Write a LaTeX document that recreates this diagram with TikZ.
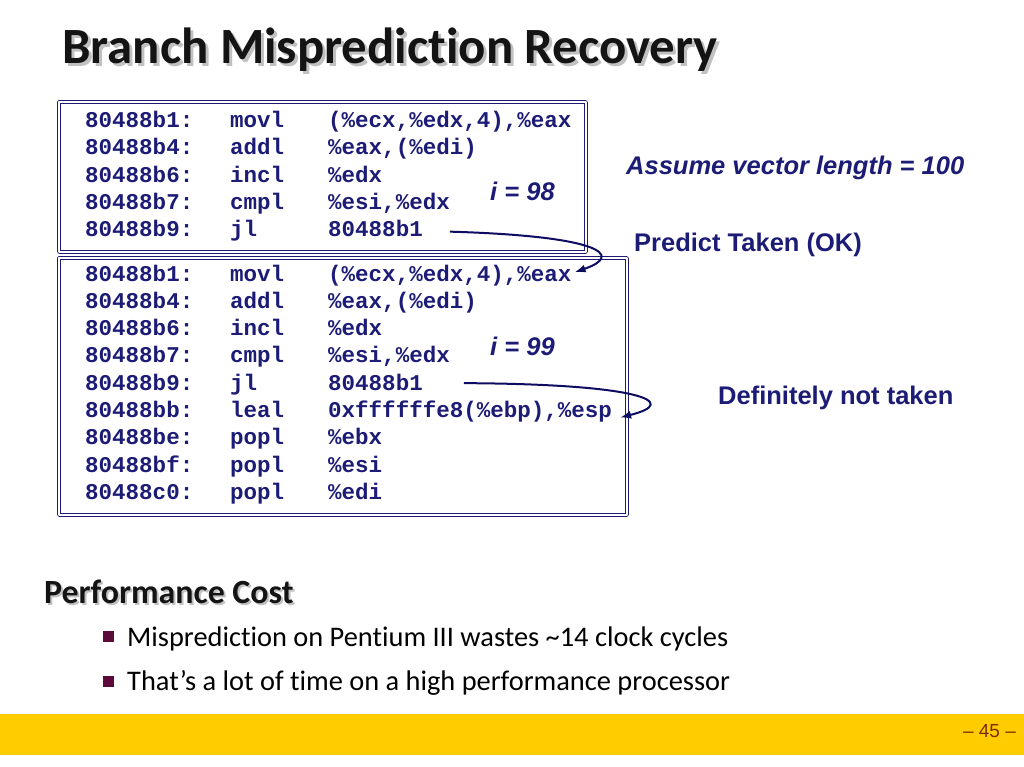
\documentclass[tikz,border=0pt]{standalone}
\usepackage{fontspec}
\usetikzlibrary{arrows.meta}
\setmainfont{Carlito}[Ligatures=NoCommon]
\newfontfamily\codefont{Liberation Mono}
\newfontfamily\labelfont{Liberation Sans}
\definecolor{codeblue}{RGB}{28,28,118}
\definecolor{jumpblue}{RGB}{12,12,96}
\definecolor{barcolor}{RGB}{255,204,0}
\definecolor{pagecolor}{RGB}{122,46,0}
\definecolor{bulletcolor}{RGB}{92,10,58}
\begin{document}
\begin{tikzpicture}[x=1bp,y=-1bp,>={Latex[length=11bp,width=8bp]},line join=bevel,
  code/.style={anchor=base west,inner sep=0pt,text=codeblue,font=\codefont\bfseries\fontsize{22.6}{22.6}\selectfont},
  note/.style={anchor=base west,inner sep=0pt,text=codeblue,font=\labelfont\bfseries\fontsize{25.6}{25.6}\selectfont},
  slanted/.style={font=\labelfont\bfseries\itshape\fontsize{25.6}{25.6}\selectfont},
  codebox/.style={draw=codeblue,double=white,double distance=2.2bp,line width=0.9bp},
  jump/.style={->,draw=jumpblue,line width=2bp},
  head/.style={anchor=base west,inner sep=0pt,font=\bfseries\fontsize{#1}{#1}\selectfont},
  item/.style={anchor=base west,inner sep=0pt,font=\fontsize{28.5}{28.5}\selectfont},
]
\useasboundingbox (0,0) rectangle (1024,767);
%%
\node (title_shadow) at (65,67) [head=51,text=black!35,opacity=.7] {Branch Misprediction Recovery};
\node (title) at (62,64) [head=51,text=black!92] {Branch Misprediction Recovery};
%%
\draw [codebox] (59,102) rectangle (586,252);
\draw [codebox] (59,258) rectangle (627,515);
%
\foreach \adr/\mn/\arg [count=\i] in {80488b1/movl/{(\%ecx,\%edx,4),\%eax},
    80488b4/addl/{\%eax,(\%edi)},80488b6/incl/{\%edx},
    80488b7/cmpl/{\%esi,\%edx},80488b9/jl/{80488b1}}
{
  \node (adrA\i) at (85,{127.5+27.3*(\i-1)}) [code] {\adr:};
  \node (mnA\i) at (230,{127.5+27.3*(\i-1)}) [code] {\mn};
  \node (argA\i) at (328,{127.5+27.3*(\i-1)}) [code] {\arg};
}
\foreach \adr/\mn/\arg [count=\i] in {80488b1/movl/{(\%ecx,\%edx,4),\%eax},
    80488b4/addl/{\%eax,(\%edi)},80488b6/incl/{\%edx},
    80488b7/cmpl/{\%esi,\%edx},80488b9/jl/{80488b1},
    80488bb/leal/{0xffffffe8(\%ebp),\%esp},80488be/popl/{\%ebx},
    80488bf/popl/{\%esi},80488c0/popl/{\%edi}}
{
  \node (adrB\i) at (85,{281+27.3*(\i-1)}) [code] {\adr:};
  \node (mnB\i) at (230,{281+27.3*(\i-1)}) [code] {\mn};
  \node (argB\i) at (328,{281+27.3*(\i-1)}) [code] {\arg};
}
%
\node (iter_a) at (490,200) [note,slanted] {i = 98};
\node (iter_b) at (490,355) [note,slanted] {i = 99};
\node (assume) at (626,174) [note,slanted] {Assume vector length = 100};
\node (taken) at (634,251) [note] {Predict Taken (OK)};
\node (nottaken) at (718,404) [note] {Definitely not taken};
%
\draw [jump] ([xshift=27bp,yshift=-3bp]argA5.east) ..controls (600,236) and (625,255) .. ([xshift=3bp,yshift=3bp]argB1.east);
\draw [jump] ([xshift=41bp,yshift=-1bp]argB5.east) ..controls (640,384) and (682,402) .. ([xshift=8bp,yshift=-6bp]argB6.east);
%%
\node (perf_shadow) at (46,605) [head=34,text=black!35,opacity=.7] {Performance Cost};
\node (perf) at (44,603) [head=34,text=black!92] {Performance Cost};
\fill [bulletcolor] (103,631) rectangle (114,642);
\node (item_a) at (127,646) [item] {Misprediction on Pentium III wastes \textasciitilde14 clock cycles};
\fill [bulletcolor] (103,676) rectangle (114,687);
\node (item_b) at (127,690) [item] {That’s a lot of time on a high performance processor};
%%
\fill [barcolor] (0,714) rectangle (1024,755);
\node (page) at (1016,737) [anchor=base east,inner sep=0pt,text=pagecolor,font=\labelfont\fontsize{19}{19}\selectfont] {– 45 –};
%
\end{tikzpicture}
\end{document}
